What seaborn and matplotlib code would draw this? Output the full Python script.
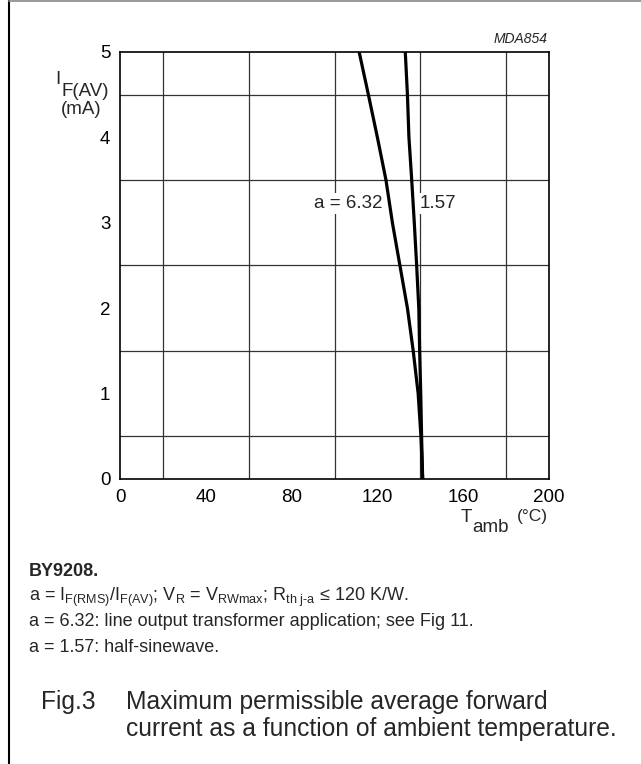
import numpy as np
import pandas as pd
import seaborn as sns
import matplotlib.pyplot as plt
from matplotlib.lines import Line2D

# Curve data (I_F(AV) in mA, T_amb in degC)
current_ma = [5.0, 4.5, 4.0, 3.5, 3.0, 2.5, 2.0, 1.5, 1.0, 0.5, 0.0]
temp_a632 = [111.5, 115.8, 120.0, 124.0, 127.0, 130.5, 134.0, 136.7, 139.0, 140.3, 141.1]
temp_a157 = [133.0, 134.0, 134.7, 136.0, 137.2, 138.3, 139.3, 139.7, 140.2, 140.6, 141.1]

x_ticks = [0, 40, 80, 120, 160, 200]
y_ticks = [0, 1, 2, 3, 4, 5]

df = pd.concat([
    pd.DataFrame({"T": temp_a632, "I": current_ma, "a": "6.32"}),
    pd.DataFrame({"T": temp_a157, "I": current_ma, "a": "1.57"}),
])

sns.set_theme(style="white")
plt.rcParams["font.family"] = ["Liberation Sans", "DejaVu Sans"]
plt.rcParams["mathtext.fontset"] = "custom"
plt.rcParams["mathtext.rm"] = "Liberation Sans"
plt.rcParams["mathtext.it"] = "Liberation Sans:italic"

W, H = 641, 764
fig = plt.figure(figsize=(W / 100, H / 100), dpi=100)
ax = fig.add_axes([120 / W, 1 - 479 / H, 429 / W, 427 / H])


def px(x, y):
    return x / W, 1 - y / H


# grid
ax.set_xticks(np.arange(0, 201, 20), minor=True)
ax.set_yticks(np.arange(0, 5.01, 0.5), minor=True)
ax.grid(which="minor", color="#333333", lw=0.9)
ax.set_axisbelow(True)

sns.lineplot(data=df, x="T", y="I", hue="a", palette=["black", "black"],
             sort=False, estimator=None, lw=2.3, legend=False, ax=ax, zorder=3)

ax.set_xlim(0, 200)
ax.set_ylim(0, 5)
ax.set_xticks(x_ticks)
ax.set_yticks(y_ticks)
ax.set_xticklabels([str(v) for v in x_ticks])
ax.set_yticklabels([str(v) for v in y_ticks])
ax.tick_params(which="both", length=0, labelsize=13.5, colors="black")
ax.tick_params(axis="x", pad=7.5)
ax.tick_params(axis="y", pad=7)
ax.set_xlabel("")
ax.set_ylabel("")
for s in ax.spines.values():
    s.set_color("black")
    s.set_linewidth(1.2)

# curve labels
box = dict(facecolor="white", edgecolor="none", pad=1.5)
ax.text(122.3, 3.23, "a = 6.32", ha="right", va="center", fontsize=13.5, bbox=box, zorder=2)
ax.text(139.6, 3.23, "1.57", ha="left", va="center", fontsize=13.5, bbox=box, zorder=2)

# axis labels
fig.text(*px(58, 79), "I", ha="center", va="center", fontsize=13.5)
fig.text(*px(109, 91), "F(AV)", ha="right", va="center", fontsize=13.5)
fig.text(*px(101, 109), "(mA)", ha="right", va="center", fontsize=13.5)
fig.text(*px(466, 518), "T", ha="center", va="center", fontsize=13.5)
fig.text(*px(472, 527), "amb", ha="left", va="center", fontsize=13.5)
fig.text(*px(548, 516), "(\u00b0C)", ha="right", va="center", fontsize=12.5)
fig.text(*px(548, 39), "MDA854", ha="right", va="center", fontsize=10, style="italic")

# caption
fig.text(*px(29, 572), "BY9208.", ha="left", va="center", fontsize=13, weight="bold")
fig.text(*px(29, 597),
         r"a = I$_{\mathregular{F(RMS)}}$/I$_{\mathregular{F(AV)}}$; V$_{\mathregular{R}}$ = "
         r"V$_{\mathregular{RWmax}}$; R$_{\mathregular{th\ j\text{-}a}}$ " "\u2264 120 K/W.",
         ha="left", va="center", fontsize=13)
fig.text(*px(29, 622), "a = 6.32: line output transformer application; see Fig 11.",
         ha="left", va="center", fontsize=13)
fig.text(*px(29, 647), "a = 1.57: half-sinewave.", ha="left", va="center", fontsize=13)
fig.text(*px(41, 702), "Fig.3", ha="left", va="center", fontsize=17.7)
fig.text(*px(126, 702), "Maximum permissible average forward", ha="left", va="center", fontsize=17.7)
fig.text(*px(126, 729), "current as a function of ambient temperature.", ha="left", va="center", fontsize=17.7)

# page frame
fig.add_artist(Line2D([9 / W, 9 / W], [0, 1 - 1 / H], color="black", lw=1.5))
fig.add_artist(Line2D([9 / W, 1], [1 - 1 / H, 1 - 1 / H], color="#888888", lw=1.2))

fig.savefig("out.png", dpi=100)
